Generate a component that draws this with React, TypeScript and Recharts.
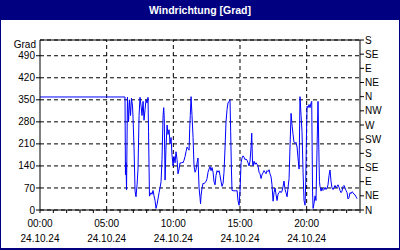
import { LineChart, Line, XAxis, YAxis, CartesianGrid, ReferenceLine, Label } from 'recharts';

// Messzeitpunkte in Stunden ab 24.10.24 00:00
const hours = [
    0, 6.375, 6.41, 6.45, 6.49, 6.56, 6.64, 6.71, 6.79, 6.86, 6.94, 6.98, 7.05, 7.13, 7.2, 7.28, 7.35, 7.43, 7.5,
    7.58, 7.65, 7.73, 7.8, 7.88, 7.95, 8.03, 8.1, 8.14, 8.21, 8.33, 8.4, 8.48, 8.55, 8.63, 8.7, 8.78, 8.85, 8.93,
    9.0, 9.08, 9.15, 9.23, 9.28, 9.32, 9.38, 9.45, 9.53, 9.6, 9.68, 9.75, 9.83, 9.9, 9.98, 10.05, 10.13, 10.2,
    10.28, 10.35, 10.43, 10.5, 10.58, 10.65, 10.73, 10.8, 10.88, 10.95, 11.03, 11.1, 11.18, 11.23, 11.27, 11.33,
    11.4, 11.48, 11.55, 11.63, 11.7, 11.78, 11.85, 11.93, 12.0, 12.04, 12.08, 12.15, 12.23, 12.3, 12.38, 12.45,
    12.53, 12.6, 12.68, 12.75, 12.83, 12.9, 12.98, 13.05, 13.13, 13.2, 13.28, 13.35, 13.43, 13.5, 13.58, 13.65,
    13.73, 13.8, 13.88, 13.95, 14.03, 14.1, 14.18, 14.25, 14.3, 14.35, 14.4, 14.48, 14.55, 14.63, 14.7, 14.78,
    14.85, 14.93, 15.0, 15.08, 15.15, 15.23, 15.3, 15.38, 15.45, 15.53, 15.6, 15.68, 15.75, 15.83, 15.88, 15.94,
    15.98, 16.05, 16.13, 16.2, 16.28, 16.35, 16.43, 16.5, 16.58, 16.65, 16.73, 16.8, 16.88, 16.95, 17.03, 17.1,
    17.18, 17.25, 17.33, 17.4, 17.48, 17.55, 17.63, 17.7, 17.78, 17.85, 17.93, 18.0, 18.08, 18.15, 18.23, 18.3,
    18.38, 18.45, 18.53, 18.6, 18.68, 18.75, 18.83, 18.9, 18.98, 19.05, 19.13, 19.2, 19.28, 19.35, 19.43, 19.5,
    19.58, 19.65, 19.73, 19.8, 19.88, 19.93, 19.99, 20.03, 20.1, 20.18, 20.25, 20.33, 20.38, 20.44, 20.48, 20.55,
    20.63, 20.7, 20.78, 20.85, 20.93, 20.96, 21.0, 21.08, 21.15, 21.23, 21.3, 21.38, 21.45, 21.53, 21.6, 21.68,
    21.75, 21.83, 21.9, 21.98, 22.05, 22.13, 22.2, 22.28, 22.35, 22.43, 22.5, 22.58, 22.65, 22.73, 22.8, 22.88,
    22.95, 23.03, 23.1, 23.18, 23.25, 23.33, 23.4, 23.48, 23.55, 23.63, 23.7, 23.78,
];

// Windrichtung in Grad
const grad = [
    359, 359, 112, 150, 64, 358, 280, 350, 300, 355, 330, 290, 200, 60, 42, 80, 130, 300, 358,
    330, 300, 345, 285, 320, 350, 340, 358, 250, 44, 55, 50, 62, 45, 30, 5, 18, 35, 55,
    70, 90, 160, 300, 325, 290, 95, 200, 270, 240, 255, 210, 230, 175, 140, 170, 150, 185,
    160, 115, 130, 150, 148, 152, 150, 158, 170, 185, 200, 195, 190, 260, 300, 360,
    300, 230, 140, 120, 128, 150, 165, 70, 40, 20, 45, 69, 85, 83, 88, 90,
    100, 120, 130, 138, 125, 135, 120, 90, 80, 110, 125, 120, 125, 110, 90, 75,
    85, 120, 200, 280, 320, 340, 345, 350, 250, 140, 62, 62, 60, 62, 60, 62,
    30, 15, 60, 150, 165, 172, 168, 160, 162, 158, 150, 140, 155, 200, 244, 150,
    140, 155, 145, 150, 145, 140, 120, 115, 100, 112, 118, 125, 120, 115, 125, 122,
    128, 115, 105, 80, 28, 55, 70, 50, 30, 50, 55, 60, 55, 60, 75, 92,
    65, 55, 42, 70, 100, 200, 307, 270, 240, 215, 212, 215, 200, 165, 130, 360,
    300, 250, 120, 30, 15, 90, 250, 330, 325, 335, 325, 340, 345, 60, 5, 20,
    45, 30, 200, 345, 150, 90, 75, 60, 70, 62, 65, 72, 65, 70, 80, 110,
    127, 90, 70, 65, 72, 78, 70, 75, 80, 72, 62, 55, 60, 75, 78, 70,
    62, 55, 35, 40, 55, 52, 58, 55, 50, 48, 42, 36,
];

const hourTicks = [0, 1, 2, 3, 4, 5, 6, 7, 8, 9, 10, 11, 12, 13, 14, 15, 16, 17, 18, 19, 20, 21, 22, 23, 24];
const timeLabels: Record<number, string> = { 0: '00:00', 5: '05:00', 10: '10:00', 15: '15:00', 20: '20:00' };
const dateLabel = '24.10.24';
const gradTicks = [0, 70, 140, 210, 280, 350, 420, 490];
const compassTicks = [0, 45, 90, 135, 180, 225, 270, 315, 360, 405, 450, 495, 540];
const compassLabels = ['N', 'NE', 'E', 'SE', 'S', 'SW', 'W', 'NW', 'N', 'NE', 'E', 'SE', 'S'];

const NAVY = '#000080';
const FONT = '"Liberation Sans", Arial, sans-serif';

const data = hours.map((h, i) => ({ h, grad: grad[i] }));

function TimeTick({ x, y, payload }: any) {
    const label = timeLabels[payload.value];
    if (!label) return null;
    return (
        <text x={x} y={y} textAnchor="middle" fill="#000" fontSize={10} fontFamily={FONT}>
            <tspan x={x} dy={12}>{label}</tspan>
            <tspan x={x} dy={15}>{dateLabel}</tspan>
        </text>
    );
}

export default function App() {
    return (
        <div style={{ position: 'absolute', left: 0, top: 0, width: 400, height: 250, background: '#fff', fontFamily: FONT }}>
            <LineChart width={400} height={250} data={data} margin={{ top: 40, right: 0, bottom: 0, left: 0 }}>
                <CartesianGrid vertical={false} stroke="#000" strokeDasharray="4 3" />
                <XAxis
                    dataKey="h"
                    type="number"
                    domain={[0, 24]}
                    ticks={hourTicks}
                    interval={0}
                    height={40}
                    tickSize={3}
                    tickMargin={2}
                    stroke="#000"
                    tick={<TimeTick />}
                />
                <YAxis
                    domain={[0, 540]}
                    ticks={gradTicks}
                    interval={0}
                    width={40}
                    tickSize={4}
                    tickMargin={1}
                    stroke="#000"
                    tick={{ fill: '#000', fontSize: 10, fontFamily: FONT }}
                >
                    <Label
                        content={({ viewBox }: any) => (
                            <text x={viewBox.x + viewBox.width - 4} y={viewBox.y + 8} textAnchor="end" fill="#000" fontSize={10} fontFamily={FONT}>
                                Grad
                            </text>
                        )}
                    />
                </YAxis>
                <YAxis
                    yAxisId="r"
                    orientation="right"
                    domain={[0, 540]}
                    ticks={compassTicks}
                    interval={0}
                    width={40}
                    tickSize={4}
                    tickMargin={1}
                    stroke="#000"
                    tick={{ fill: '#000', fontSize: 10, fontFamily: FONT }}
                    tickFormatter={(v: number) => compassLabels[compassTicks.indexOf(v)]}
                />
                {[5, 10, 15, 20].map(v => (
                    <ReferenceLine key={v} x={v} stroke="#000" strokeDasharray="4 3" />
                ))}
                <ReferenceLine y={540} stroke="#000" />
                {/* unsichtbare Kopie, damit die rechte Kompass-Achse eine Skala bekommt */}
                <Line
                    yAxisId="r"
                    dataKey="grad"
                    stroke="transparent"
                    dot={false}
                    activeDot={false}
                    isAnimationActive={false}
                />
                <Line
                    type="linear"
                    dataKey="grad"
                    stroke="#0000ff"
                    strokeWidth={1}
                    dot={false}
                    activeDot={false}
                    isAnimationActive={false}
                />
            </LineChart>
            <div style={{
                position: 'absolute', left: 0, top: 0, width: 400, height: 20, background: NAVY, color: '#fff',
                fontWeight: 'bold', fontSize: 10.5, lineHeight: '20px', textAlign: 'center',
            }}>
                Windrichtung [Grad]
            </div>
            <div style={{
                position: 'absolute', left: 0, top: 0, width: 400, height: 250, boxSizing: 'border-box',
                borderLeft: `1px solid ${NAVY}`, borderRight: `1px solid ${NAVY}`, borderBottom: `2px solid ${NAVY}`,
                pointerEvents: 'none',
            }} />
        </div>
    );
}
